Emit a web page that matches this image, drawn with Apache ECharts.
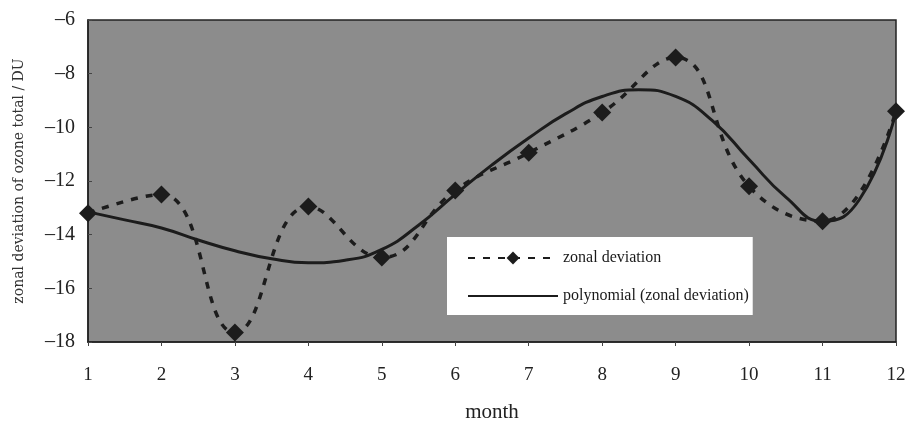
<!DOCTYPE html>
<html>
<head>
<meta charset="utf-8">
<script src="https://cdn.jsdelivr.net/npm/echarts@6/dist/echarts.min.js"></script>
<style>
  html, body { margin: 0; padding: 0; background: #fff; }
  #chart { width: 905px; height: 421px; }
</style>
</head>
<body>
<div id="chart"></div>
<script>
// monthly zonal deviation (diamonds)
var months = [1, 2, 3, 4, 5, 6, 7, 8, 9, 10, 11, 12];
var zonalDev = [-13.2, -12.5, -17.65, -12.95, -14.85, -12.35, -10.95, -9.45, -7.4, -12.2, -13.5, -9.4];

// polynomial trend (half-month steps)
var polyX = [1, 1.5, 2, 2.5, 3, 3.5, 4, 4.5, 5, 5.5, 6, 6.5, 7, 7.5, 8, 8.5, 9, 9.5, 10, 10.5, 11, 11.5, 12];
var polyY = [-13.15, -13.45, -13.75, -14.2, -14.6, -14.9, -15.05, -14.95, -14.55, -13.65, -12.5, -11.4, -10.4, -9.5, -8.85, -8.6, -8.85, -9.75, -11.2, -12.6, -13.5, -12.7, -9.4];

var seriesNames = ['zonal deviation', 'polynomial (zonal deviation)'];

var myChart = echarts.init(document.getElementById('chart'));
var serif = '"Liberation Serif", "DejaVu Serif", serif';

option = {
    animation: false,
    backgroundColor: '#ffffff',
    grid: {
        left: 88,
        right: 9,
        top: 20,
        bottom: 79,
        outerBoundsMode: 'none',
        containLabel: false,
        show: true,
        backgroundColor: '#8c8c8c',
        borderColor: '#222',
        borderWidth: 1.5
    },
    legend: {
        orient: 'vertical',
        left: 447,
        top: 237,
        padding: [13, 4, 11, 20],
        backgroundColor: '#ffffff',
        itemGap: 22,
        itemWidth: 90,
        itemHeight: 16,
        textStyle: { fontFamily: serif, fontSize: 16, color: '#1a1a1a' },
        data: [
            { name: seriesNames[0] },
            { name: seriesNames[1], itemStyle: { opacity: 0 } }
        ]
    },
    xAxis: {
        type: 'value',
        min: 1,
        max: 12,
        interval: 1,
        name: 'month',
        nameLocation: 'middle',
        nameGap: 60,
        nameTextStyle: { fontFamily: serif, fontSize: 21, color: '#222' },
        axisLine: { show: true, lineStyle: { color: '#222', width: 1.5 } },
        axisTick: { show: true, length: 4, lineStyle: { color: '#444' } },
        axisLabel: { fontFamily: serif, fontSize: 19, color: '#222', margin: 24 },
        splitLine: { show: false }
    },
    yAxis: {
        type: 'value',
        min: -18,
        max: -6,
        interval: 2,
        name: 'zonal deviation of ozone total / DU',
        nameLocation: 'middle',
        nameGap: 62,
        nameTextStyle: { fontFamily: '"DejaVu Serif", serif', fontSize: 14, color: '#333' },
        axisLine: { show: true, lineStyle: { color: '#222', width: 1.5 } },
        axisTick: { show: true, inside: true, length: 4, lineStyle: { color: '#444' } },
        axisLabel: {
            fontFamily: serif, fontSize: 20, color: '#222', margin: 13,
            formatter: function (v) { return String(v).replace('-', '\u2013'); }
        },
        splitLine: { show: false }
    },
    series: [{
        name: seriesNames[0],
        type: 'line',
        data: months.map(function (m, i) { return [m, zonalDev[i]]; }),
        smooth: 0.45,
        symbol: 'diamond',
        symbolSize: 18,
        itemStyle: { color: '#1c1c1c' },
        lineStyle: { color: '#1c1c1c', width: 3.5, type: [7, 8] },
        z: 3
    }, {
        name: seriesNames[1],
        type: 'line',
        data: polyX.map(function (m, i) { return [m, polyY[i]]; }),
        smooth: 0.5,
        showSymbol: false,
        symbol: 'none',
        itemStyle: { color: '#1c1c1c' },
        lineStyle: { color: '#1c1c1c', width: 3 },
        z: 2
    }]
};
myChart.setOption(option);
</script>
</body>
</html>
